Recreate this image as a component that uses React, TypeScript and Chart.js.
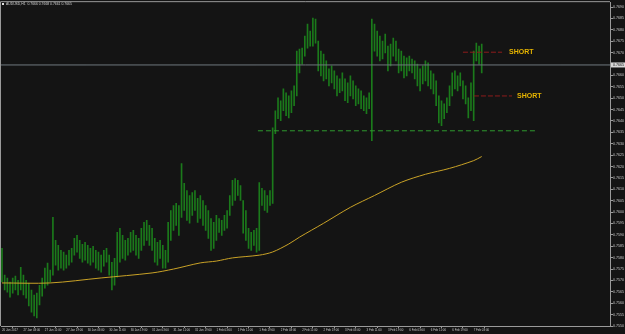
import React, { useEffect, useRef } from 'react';
import { Chart, registerables } from 'chart.js';

Chart.register(...registerables);

const symbolTitle = 'AUDUSD,H1  0.7666 0.7668 0.7661 0.7665';

const xTickBars = [0, 8, 16, 24, 32, 40, 48, 56, 64, 72, 80, 88, 96, 104, 112, 120, 128, 136, 144, 152, 160, 168, 176];
const xTickLabels = [
  '26 Jan 2017', '27 Jan 03:00', '27 Jan 11:00', '27 Jan 19:00', '30 Jan 03:00', '30 Jan 11:00',
  '30 Jan 19:00', '31 Jan 03:00', '31 Jan 11:00', '31 Jan 19:00', '1 Feb 03:00', '1 Feb 11:00',
  '1 Feb 19:00', '2 Feb 03:00', '2 Feb 11:00', '2 Feb 19:00', '3 Feb 03:00', '3 Feb 11:00',
  '3 Feb 19:00', '6 Feb 03:00', '6 Feb 11:00', '6 Feb 19:00', '7 Feb 03:00',
];

const yTickValues = [
  0.7550, 0.7555, 0.7560, 0.7565, 0.7570, 0.7575, 0.7580, 0.7585, 0.7590, 0.7595,
  0.7600, 0.7605, 0.7610, 0.7615, 0.7620, 0.7625, 0.7630, 0.7635, 0.7640, 0.7645,
  0.7650, 0.7655, 0.7660, 0.7670, 0.7675, 0.7680, 0.7685, 0.7690,
];

const barHighs = [
  0.75841, 0.75723, 0.75710, 0.75693, 0.75710, 0.75719, 0.75701, 0.75758, 0.75723, 0.75701,
  0.75688, 0.75658, 0.75636, 0.75644, 0.75679, 0.75710, 0.75754, 0.75776, 0.75745, 0.75977,
  0.75876, 0.75854, 0.75832, 0.75824, 0.75811, 0.75832, 0.75841, 0.75885, 0.75898, 0.75876,
  0.75859, 0.75867, 0.75854, 0.75841, 0.75850, 0.75832, 0.75824, 0.75811, 0.75832, 0.75841,
  0.75811, 0.75780, 0.75797, 0.75911, 0.75929, 0.75898, 0.75876, 0.75885, 0.75911, 0.75920,
  0.75898, 0.75885, 0.75929, 0.75955, 0.75964, 0.75942, 0.75929, 0.75885, 0.75867, 0.75876,
  0.75854, 0.75832, 0.75955, 0.76007, 0.76029, 0.76038, 0.76029, 0.76213, 0.76126, 0.76095,
  0.76073, 0.76086, 0.76095, 0.76060, 0.76073, 0.76051, 0.76029, 0.76007, 0.75972, 0.75955,
  0.75986, 0.75972, 0.75964, 0.75986, 0.76007, 0.76073, 0.76139, 0.76147, 0.76139, 0.76117,
  0.76051, 0.76007, 0.75929, 0.75911, 0.75920, 0.75929, 0.76130, 0.76104, 0.76095, 0.76073,
  0.76095, 0.76370, 0.76445, 0.76502, 0.76489, 0.76541, 0.76524, 0.76510, 0.76532, 0.76554,
  0.76707, 0.76716, 0.76720, 0.76773, 0.76825, 0.76795, 0.76852, 0.76847, 0.76751, 0.76707,
  0.76694, 0.76664, 0.76629, 0.76642, 0.76620, 0.76598, 0.76585, 0.76611, 0.76585, 0.76567,
  0.76598, 0.76576, 0.76554, 0.76541, 0.76532, 0.76510, 0.76502, 0.76524, 0.76847, 0.76825,
  0.76795, 0.76773, 0.76751, 0.76782, 0.76729, 0.76738, 0.76764, 0.76751, 0.76716, 0.76707,
  0.76685, 0.76677, 0.76685, 0.76672, 0.76664, 0.76650, 0.76629, 0.76642, 0.76664, 0.76655,
  0.76620, 0.76607, 0.76576, 0.76510, 0.76489, 0.76475, 0.76502, 0.76554, 0.76611, 0.76620,
  0.76598, 0.76611, 0.76576, 0.76554, 0.76502, 0.76567, 0.76707, 0.76742, 0.76729, 0.76738,
];

const barLows = [
  0.75693, 0.75658, 0.75649, 0.75627, 0.75644, 0.75658, 0.75636, 0.75658, 0.75636, 0.75622,
  0.75588, 0.75561, 0.75544, 0.75535, 0.75592, 0.75631, 0.75666, 0.75679, 0.75693, 0.75723,
  0.75767, 0.75745, 0.75754, 0.75745, 0.75754, 0.75767, 0.75780, 0.75811, 0.75824, 0.75797,
  0.75780, 0.75789, 0.75776, 0.75767, 0.75780, 0.75754, 0.75745, 0.75736, 0.75763, 0.75780,
  0.75723, 0.75658, 0.75679, 0.75714, 0.75780, 0.75797, 0.75789, 0.75811, 0.75824, 0.75832,
  0.75811, 0.75797, 0.75832, 0.75854, 0.75876, 0.75854, 0.75832, 0.75780, 0.75767, 0.75797,
  0.75754, 0.75754, 0.75780, 0.75876, 0.75920, 0.75942, 0.75898, 0.75977, 0.76007, 0.75964,
  0.75951, 0.75986, 0.76007, 0.75955, 0.75972, 0.75942, 0.75920, 0.75885, 0.75832, 0.75841,
  0.75876, 0.75911, 0.75898, 0.75920, 0.75929, 0.75986, 0.76029, 0.76051, 0.76073, 0.76051,
  0.75907, 0.75876, 0.75841, 0.75832, 0.75854, 0.75824, 0.75832, 0.76029, 0.76007, 0.75999,
  0.76029, 0.76038, 0.76344, 0.76410, 0.76401, 0.76445, 0.76423, 0.76414, 0.76436, 0.76467,
  0.76510, 0.76611, 0.76650, 0.76685, 0.76720, 0.76729, 0.76729, 0.76742, 0.76620, 0.76598,
  0.76576, 0.76585, 0.76554, 0.76567, 0.76541, 0.76510, 0.76524, 0.76532, 0.76489, 0.76480,
  0.76510, 0.76497, 0.76467, 0.76475, 0.76454, 0.76445, 0.76432, 0.76454, 0.76314, 0.76707,
  0.76685, 0.76664, 0.76672, 0.76699, 0.76620, 0.76642, 0.76685, 0.76664, 0.76611, 0.76620,
  0.76589, 0.76598, 0.76620, 0.76611, 0.76585, 0.76554, 0.76532, 0.76563, 0.76576, 0.76554,
  0.76541, 0.76519, 0.76467, 0.76392, 0.76379, 0.76410, 0.76436, 0.76467, 0.76510, 0.76541,
  0.76532, 0.76554, 0.76497, 0.76475, 0.76414, 0.76445, 0.76401, 0.76664, 0.76650, 0.76611,
];

const maBars = [0, 18, 37, 56, 64, 74, 80, 86, 96, 101, 107, 111, 120, 130, 139, 149, 158, 167, 176, 179];
const maValues = [
  0.75689, 0.75689, 0.75711, 0.75733, 0.75750, 0.75777, 0.75785, 0.75799, 0.75811, 0.75825,
  0.75860, 0.75890, 0.75951, 0.76021, 0.76073, 0.76131, 0.76166, 0.76192, 0.76226, 0.76244,
];

const supportLevel = 0.76357;
const supportBars = [95.5, 199.6];
const shortLevels = [0.76702, 0.76510];
const shortStartBars = [172, 176.1];
const shortEndBars = [186.6, 190.3];
const shortLabelBars = [189.2, 192.2];
const shortText = 'SHORT';
const currentPrice = 0.76646;
const currentPriceLabel = '0.7665';

const X_MIN = -0.37;
const X_MAX = 226.87;
const Y_MIN = 0.755;
const Y_MAX = 0.769217;

const overlayPlugin = {
  id: 'mtOverlay',
  afterDraw(chart: any) {
    const { ctx, chartArea, scales } = chart;
    const x = scales.x;
    const y = scales.y;
    ctx.save();
    ctx.strokeStyle = '#9a9a9a';
    ctx.lineWidth = 1;
    ctx.beginPath();
    ctx.moveTo(chartArea.left - 0.5, chartArea.bottom);
    ctx.lineTo(chartArea.left - 0.5, chartArea.top - 0.5);
    ctx.lineTo(chartArea.right, chartArea.top - 0.5);
    ctx.stroke();

    ctx.font = 'bold 7px "Liberation Sans"';
    ctx.fillStyle = '#e6b400';
    ctx.textBaseline = 'middle';
    ctx.textAlign = 'left';
    shortLevels.forEach((lv, k) => {
      ctx.fillText(shortText, x.getPixelForValue(shortLabelBars[k]), y.getPixelForValue(lv));
    });

    const py = y.getPixelForValue(currentPrice);
    ctx.fillStyle = '#d8d8d8';
    ctx.fillRect(chartArea.right + 1, py - 2.5, 14, 5);
    ctx.fillStyle = '#111111';
    ctx.font = '3.6px "Liberation Sans"';
    ctx.fillText(currentPriceLabel, chartArea.right + 3, py);

    ctx.fillStyle = '#e0e0e0';
    ctx.fillRect(2, 3, 2, 2);
    ctx.font = '3.4px "Liberation Sans"';
    ctx.fillStyle = '#d0d0d0';
    ctx.fillText(symbolTitle, 6, 4.5);
    ctx.restore();
  },
};

export default function App() {
  const ref = useRef<HTMLCanvasElement | null>(null);
  useEffect(() => {
    if (!ref.current) return;
    const bars = barHighs.map((h, i) => ({ x: i, y: [barLows[i], h] }));
    const ma = maBars.map((b, i) => ({ x: b, y: maValues[i] }));
    const chart = new Chart(ref.current, {
      type: 'bar',
      data: {
        datasets: [
          {
            type: 'line',
            data: [{ x: X_MIN - 1, y: currentPrice }, { x: X_MAX + 1, y: currentPrice }],
            borderColor: '#6f787e',
            borderWidth: 1,
            pointRadius: 0,
            order: 1,
          } as any,
          {
            type: 'line',
            data: [{ x: supportBars[0], y: supportLevel }, { x: supportBars[1], y: supportLevel }],
            borderColor: '#2f9a2f',
            borderWidth: 1,
            borderDash: [5, 3],
            pointRadius: 0,
            order: 2,
          } as any,
          ...shortLevels.map((lv, k) => ({
            type: 'line',
            data: [{ x: shortStartBars[k], y: lv }, { x: shortEndBars[k], y: lv }],
            borderColor: '#8e1c1c',
            borderWidth: 1,
            borderDash: [5, 2],
            pointRadius: 0,
            order: 2,
          })) as any,
          {
            type: 'line',
            data: ma,
            borderColor: '#c9a227',
            borderWidth: 1,
            pointRadius: 0,
            tension: 0.3,
            order: 3,
          } as any,
          {
            type: 'bar',
            data: bars,
            backgroundColor: '#1b7a1b',
            borderWidth: 0,
            barThickness: 1,
            order: 5,
          } as any,
        ],
      },
      options: {
        animation: false,
        responsive: false,
        devicePixelRatio: 1,
        layout: { padding: { left: 1, top: 1, right: 0, bottom: 0 } },
        plugins: { legend: { display: false }, tooltip: { enabled: false } },
        scales: {
          x: {
            type: 'linear',
            min: X_MIN,
            max: X_MAX,
            offset: false,
            afterBuildTicks: (s: any) => { s.ticks = xTickBars.map((v) => ({ value: v })); },
            afterFit: (s: any) => { s.height = 8; },
            grid: { drawOnChartArea: false, tickLength: 2, tickColor: '#9a9a9a' },
            border: { display: true, color: '#9a9a9a', width: 1 },
            ticks: {
              autoSkip: false,
              maxRotation: 0,
              minRotation: 0,
              align: 'start',
              padding: 0,
              color: '#c8c8c8',
              font: { size: 2.9, family: 'Liberation Sans' },
              callback: (_v: any, idx: number) => xTickLabels[idx],
            },
          },
          y: {
            type: 'linear',
            position: 'right',
            min: Y_MIN,
            max: Y_MAX,
            afterBuildTicks: (s: any) => { s.ticks = yTickValues.map((v) => ({ value: v })); },
            afterFit: (s: any) => { s.width = 15; },
            grid: { drawOnChartArea: false, tickLength: 3, tickColor: '#9a9a9a' },
            border: { display: true, color: '#9a9a9a', width: 1 },
            ticks: {
              autoSkip: false,
              padding: 0,
              crossAlign: 'near',
              color: '#c8c8c8',
              font: { size: 3.6, family: 'Liberation Sans' },
              callback: (v: any) => Number(v).toFixed(4),
            },
          },
        },
      } as any,
      plugins: [overlayPlugin],
    });
    return () => chart.destroy();
  }, []);
  return (
    <div style={{ position: 'fixed', left: 0, top: 0, width: 625, height: 334, background: '#141414' }}>
      <canvas ref={ref} width={625} height={334} style={{ display: 'block' }} />
    </div>
  );
}
